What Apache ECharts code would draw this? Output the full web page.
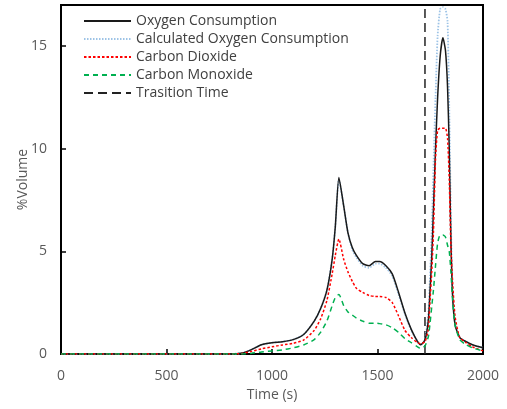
<!DOCTYPE html>
<html>
<head>
<meta charset="utf-8">
<script src="https://cdn.jsdelivr.net/npm/echarts@6/dist/echarts.min.js"></script>
<style>
  html, body { margin: 0; padding: 0; background: #fff; }
  #main { width: 507px; height: 409px; }
</style>
</head>
<body>
<div id="main"></div>
<script>
// time (s)
var times = [0, 200, 400, 600, 800, 860, 900, 950, 1000, 1050, 1100, 1150, 1200, 1230, 1260, 1285, 1300, 1317,
  1340, 1360, 1380, 1400, 1430, 1460, 1490, 1510, 1540, 1570, 1600, 1630, 1660, 1690, 1705, 1725,
  1741, 1749, 1757, 1765, 1775, 1785, 1797, 1810, 1822, 1832, 1840, 1848, 1856, 1868, 1890, 1920, 1950, 2000]

var oxygen = [0, 0, 0, 0, 0, 0.05, 0.2, 0.45, 0.55, 0.6, 0.7, 0.95, 1.6, 2.2, 3.1, 4.6, 6.2, 8.6,
  7.2, 5.9, 5.2, 4.8, 4.4, 4.3, 4.5, 4.5, 4.3, 3.9, 3.0, 2.0, 1.2, 0.6, 0.45, 0.68,
  1.65, 3.1, 4.7, 7.0, 10.0, 12.5, 14.5, 15.4, 14.8, 13.0, 10.0, 5.5, 2.8, 1.4, 0.8, 0.6, 0.45, 0.3]

var calcOxygen = [0, 0, 0, 0, 0, 0.05, 0.2, 0.45, 0.55, 0.6, 0.7, 0.95, 1.6, 2.2, 3.1, 4.6, 6.2, 8.5,
  7.2, 5.9, 5.1, 4.7, 4.3, 4.2, 4.4, 4.4, 4.2, 3.8, 2.9, 1.95, 1.15, 0.6, 0.45, 0.7,
  2.0, 3.8, 6.0, 9.0, 12.5, 15.5, 16.8, 16.9, 16.8, 16.2, 12.0, 6.5, 3.0, 1.5, 0.8, 0.6, 0.45, 0.3]

var carbonDioxide = [0, 0, 0, 0, 0, 0.03, 0.12, 0.25, 0.35, 0.44, 0.52, 0.68, 1.15, 1.7, 2.6, 3.9, 4.8, 5.6,
  4.6, 4.0, 3.55, 3.2, 3.0, 2.85, 2.8, 2.8, 2.75, 2.5, 1.85, 1.15, 0.8, 0.55, 0.5, 0.6,
  1.2, 2.6, 4.0, 5.9, 9.5, 10.9, 11.0, 11.0, 11.0, 10.5, 8.5, 5.2, 3.5, 1.8, 0.8, 0.55, 0.35, 0.15]

var carbonMonoxide = [0, 0, 0, 0, 0, 0, 0.03, 0.1, 0.15, 0.2, 0.3, 0.44, 0.7, 1.05, 1.6, 2.35, 2.75, 2.9,
  2.35, 2.05, 1.9, 1.75, 1.6, 1.5, 1.5, 1.48, 1.42, 1.28, 1.05, 0.75, 0.55, 0.35, 0.27, 0.4,
  0.84, 1.5, 2.3, 3.1, 4.3, 5.4, 5.8, 5.8, 5.7, 5.3, 5.0, 4.0, 2.6, 1.4, 0.7, 0.45, 0.3, 0.15]

var transitionTime = 1725

var xTicks = { min: 0, max: 2000, interval: 500 }
var yTicks = { min: 0, max: 17, interval: 5 }

function pairs(values) {
  return times.map(function (t, i) { return [t, values[i]] })
}

var labelColor = '#595959'
var chart = echarts.init(document.getElementById('main'))
chart.setOption({
  animation: false,
  textStyle: { fontFamily: 'Open Sans' },
  grid: {
    left: 61, right: 24, top: 5, bottom: 55,
    show: true, borderColor: '#000', borderWidth: 2
  },
  legend: {
    orient: 'vertical',
    left: 78, top: 9,
    itemWidth: 47, itemHeight: 14, itemGap: 4,
    itemStyle: { opacity: 0 },
    textStyle: { fontSize: 14, color: '#404040', fontFamily: 'Open Sans' },
    data: ['Oxygen Consumption', 'Calculated Oxygen Consumption', 'Carbon Dioxide', 'Carbon Monoxide', 'Trasition Time']
  },
  xAxis: {
    type: 'value',
    min: xTicks.min, max: xTicks.max, interval: xTicks.interval,
    name: 'Time (s)', nameLocation: 'middle', nameGap: 34, nameMoveOverlap: false,
    nameTextStyle: { fontSize: 14, color: labelColor },
    axisLine: { lineStyle: { color: '#000', width: 2 } },
    axisTick: { inside: true, length: 5, lineStyle: { color: '#000', width: 1.5 } },
    axisLabel: { fontSize: 14, color: labelColor, margin: 15, formatter: function (v) { return String(v) } },
    splitLine: { show: false }
  },
  yAxis: {
    type: 'value',
    min: yTicks.min, max: yTicks.max, interval: yTicks.interval,
    name: '%Volume', nameLocation: 'middle', nameGap: 31, nameMoveOverlap: false,
    nameTextStyle: { fontSize: 14, color: labelColor },
    axisLine: { lineStyle: { color: '#000', width: 2 } },
    axisTick: { inside: true, length: 5, lineStyle: { color: '#000', width: 1.5 } },
    axisLabel: { fontSize: 14, color: labelColor, margin: 14, showMaxLabel: false },
    splitLine: { show: false }
  },
  series: [
    {
      name: 'Trasition Time', type: 'line', symbol: 'none',
      data: [[transitionTime, yTicks.min], [transitionTime, yTicks.max]],
      lineStyle: { color: '#222', width: 1.5, type: [9, 5] }, z: 1
    },
    {
      name: 'Calculated Oxygen Consumption', type: 'line', symbol: 'none', smooth: 0.2,
      data: pairs(calcOxygen),
      lineStyle: { color: '#9dc3e6', width: 1.8, type: [1.5, 1.5] }, z: 2
    },
    {
      name: 'Oxygen Consumption', type: 'line', symbol: 'none', smooth: 0.2,
      data: pairs(oxygen),
      lineStyle: { color: '#1a1a1a', width: 1.5 }, z: 3
    },
    {
      name: 'Carbon Dioxide', type: 'line', symbol: 'none', smooth: 0.2,
      data: pairs(carbonDioxide),
      lineStyle: { color: '#ff0000', width: 1.5, type: [2.5, 2] }, z: 4
    },
    {
      name: 'Carbon Monoxide', type: 'line', symbol: 'none', smooth: 0.2,
      data: pairs(carbonMonoxide),
      lineStyle: { color: '#00b050', width: 1.5, type: [5, 4] }, z: 5
    }
  ]
})
</script>
</body>
</html>
